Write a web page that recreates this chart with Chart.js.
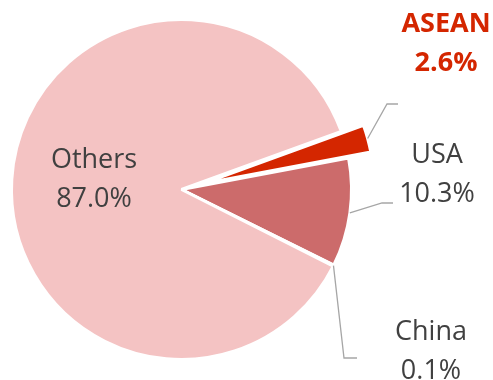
<!DOCTYPE html>
<html>
<head>
<meta charset="utf-8">
<script src="https://cdn.jsdelivr.net/npm/chart.js@4"></script>
<style>
  html, body { margin: 0; padding: 0; background: #fff; overflow: hidden; }
  #wrap { width: 493px; height: 380px; }
</style>
</head>
<body>
<div id="wrap"><canvas id="chart" width="493" height="380"></canvas></div>
<script>
// Share of exports by destination (%)
const categories = ['ASEAN', 'USA', 'China', 'Others'];
const shares = [2.6, 10.3, 0.1, 87.0];

const sliceColors = ['#D42600', '#CC6B6B', '#E49C9C', '#F4C3C3'];
const explodedCategory = 'ASEAN';
const explodeDistance = 23;

// where each label sits; leader lines start at the slice edge
const labelLayout = {
    Others: { x: 94, y: 168, inside: true },
    USA:    { x: 437, y: 163, elbow: [382, 203], end: [393, 203] },
    China:  { x: 431, y: 340, elbow: [344, 358], end: [357, 358] },
    ASEAN:  { x: 446, y: 32, elbow: [387, 104], end: [398, 104], bold: true, color: '#D42600' }
};

const explodePlugin = {
    id: 'explode',
    afterDatasetsUpdate(chart) {
        const meta = chart.getDatasetMeta(0);
        meta.data.forEach((arc, i) => {
            if (categories[i] !== explodedCategory) return;
            const mid = (arc.startAngle + arc.endAngle) / 2;
            arc.x += Math.cos(mid) * explodeDistance;
            arc.y += Math.sin(mid) * explodeDistance;
        });
    }
};

const labelPlugin = {
    id: 'sliceLabels',
    afterDraw(chart) {
        const ctx = chart.ctx;
        const meta = chart.getDatasetMeta(0);
        ctx.save();
        meta.data.forEach((arc, i) => {
            const name = categories[i];
            const lay = labelLayout[name];
            if (!lay) return;

            if (lay.elbow) {
                const mid = (arc.startAngle + arc.endAngle) / 2;
                const sx = arc.x + Math.cos(mid) * arc.outerRadius;
                const sy = arc.y + Math.sin(mid) * arc.outerRadius;
                ctx.beginPath();
                ctx.strokeStyle = '#A6A6A6';
                ctx.lineWidth = 1.3;
                ctx.moveTo(sx, sy);
                ctx.lineTo(lay.elbow[0], lay.elbow[1]);
                ctx.lineTo(lay.end[0], lay.end[1]);
                ctx.stroke();
            }

            ctx.fillStyle = lay.color || '#404040';
            ctx.font = (lay.bold ? 'bold ' : '') + '27px "Open Sans", sans-serif';
            ctx.textAlign = 'center';
            ctx.textBaseline = 'alphabetic';
            ctx.fillText(name, lay.x, lay.y);
            ctx.fillText(shares[i].toFixed(1) + '%', lay.x, lay.y + 39);
        });
        ctx.restore();
    }
};

new Chart(document.getElementById('chart'), {
    type: 'pie',
    data: {
        labels: categories,
        datasets: [{
            data: shares,
            backgroundColor: sliceColors,
            borderColor: '#FFFFFF',
            borderWidth: 3
        }]
    },
    options: {
        responsive: false,
        animation: false,
        rotation: 70,
        layout: {
            padding: { left: 10, right: 140, top: 18, bottom: 19 }
        },
        plugins: {
            legend: { display: false },
            tooltip: { enabled: false }
        }
    },
    plugins: [explodePlugin, labelPlugin]
});
</script>
</body>
</html>
